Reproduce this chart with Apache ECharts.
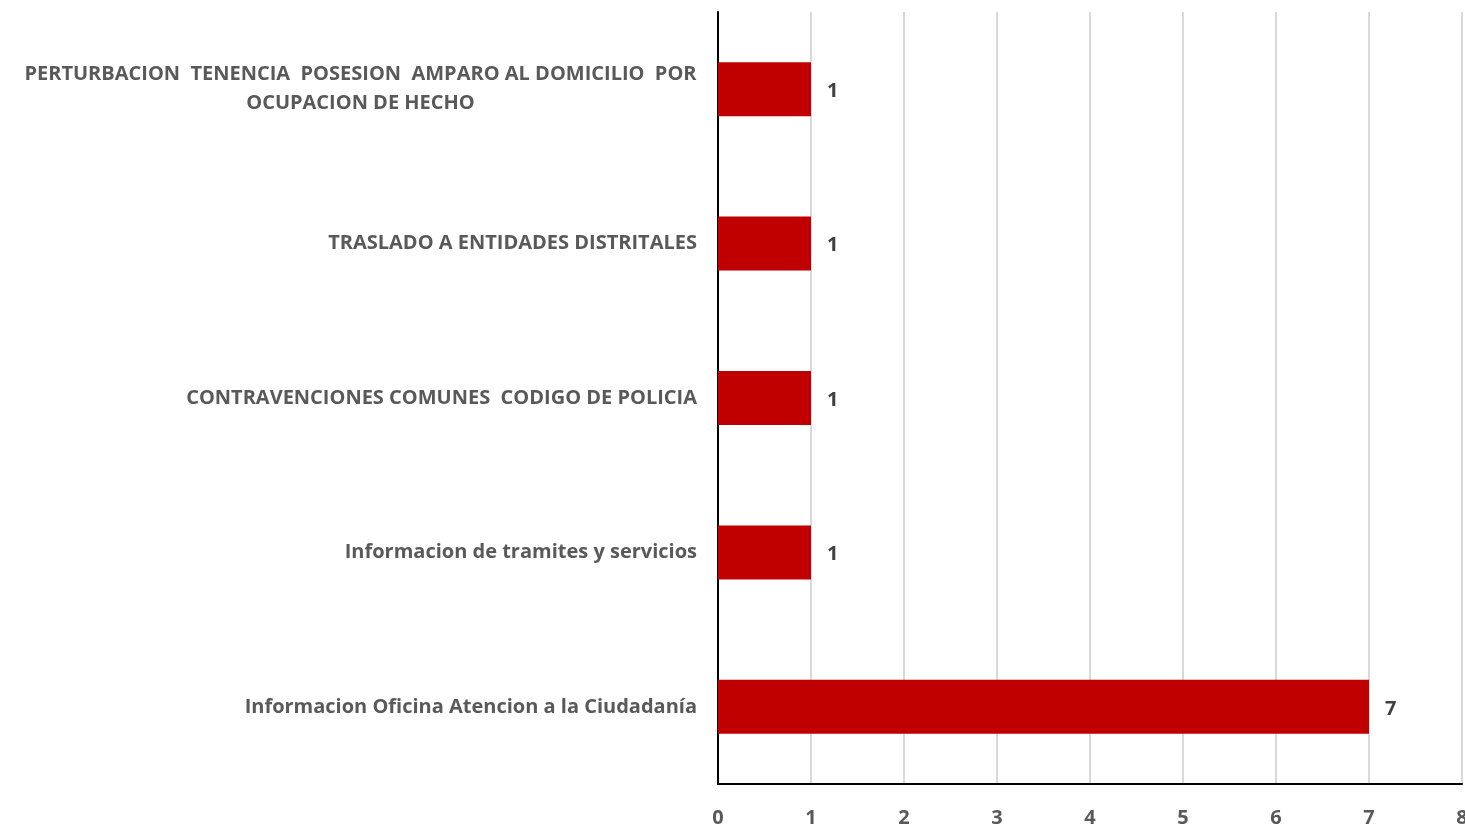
<!DOCTYPE html>
<html>
<head>
<meta charset="utf-8">
<script src="https://cdn.jsdelivr.net/npm/echarts@6/dist/echarts.min.js"></script>
<style>
  html, body { margin: 0; padding: 0; background: #fff; }
  #chart { width: 1465px; height: 824px; }
</style>
</head>
<body>
<div id="chart"></div>
<script>
// categorias de abajo hacia arriba
var categorias = [
  'Informacion Oficina Atencion a la Ciudadanía',
  'Informacion de tramites y servicios',
  'CONTRAVENCIONES COMUNES  CODIGO DE POLICIA',
  'TRASLADO A ENTIDADES DISTRITALES',
  'PERTURBACION  TENENCIA  POSESION  AMPARO AL DOMICILIO  POR\nOCUPACION DE HECHO'
];
var valores = [7, 1, 1, 1, 1];
var ejeMin = 0;
var ejeMax = 8;
var ejeIntervalo = 1;

var myChart = echarts.init(document.getElementById('chart'));
var fuente = '"Open Sans", Lato, sans-serif';
var tamLetra = 20;

// ancho de la linea mas larga para centrar la etiqueta de dos lineas
function anchoTexto(t) {
  var ctx = document.createElement('canvas').getContext('2d');
  ctx.font = 'bold ' + tamLetra + 'px ' + fuente;
  var max = 0;
  t.split('\n').forEach(function (l) { max = Math.max(max, ctx.measureText(l).width); });
  return Math.ceil(max);
}

var option = {
  backgroundColor: '#ffffff',
  animation: false,
  grid: {
    left: 718,
    right: 3,
    top: 12,
    bottom: 40,
    containLabel: false,
    outerBoundsMode: 'none'
  },
  xAxis: {
    type: 'value',
    min: ejeMin,
    max: ejeMax,
    interval: ejeIntervalo,
    axisLine: { show: true, lineStyle: { color: '#000000', width: 2 } },
    axisTick: { show: false },
    axisLabel: {
      margin: 24,
      color: '#595959',
      fontSize: tamLetra,
      fontWeight: 'bold',
      fontFamily: fuente
    },
    splitLine: { show: true, lineStyle: { color: '#d9d9d9', width: 2 } }
  },
  yAxis: {
    type: 'category',
    data: categorias,
    axisLine: { show: true, lineStyle: { color: '#000000', width: 2 } },
    axisTick: { show: false },
    axisLabel: {
      margin: 21,
      color: '#595959',
      fontSize: tamLetra,
      fontWeight: 'bold',
      fontFamily: fuente,
      lineHeight: 29,
      formatter: function (v) {
        if (v.indexOf('\n') >= 0) return '{w|' + v + '}';
        return v;
      },
      rich: {
        w: {
          width: anchoTexto(categorias[4]),
          align: 'center',
          color: '#595959',
          fontSize: tamLetra,
          fontWeight: 'bold',
          fontFamily: fuente,
          lineHeight: 29
        }
      }
    }
  },
  series: [{
    type: 'bar',
    data: valores,
    barWidth: '35%',
    itemStyle: { color: '#c00000' },
    label: {
      show: true,
      position: 'right',
      distance: 16,
      color: '#404040',
      fontSize: tamLetra,
      fontWeight: 'bold',
      fontFamily: fuente,
      offset: [0, 2]
    }
  }]
};

myChart.setOption(option);
</script>
</body>
</html>
